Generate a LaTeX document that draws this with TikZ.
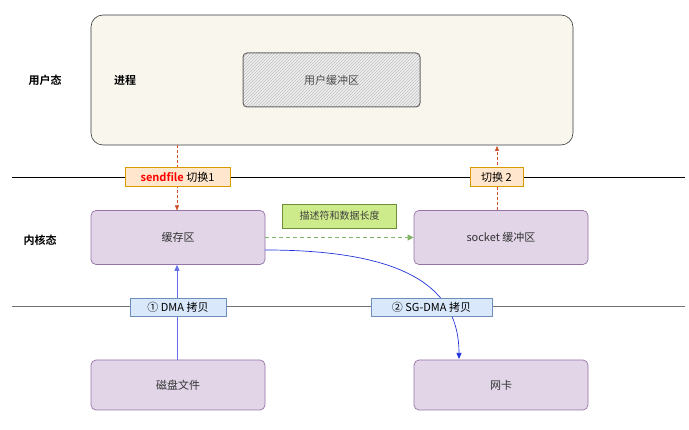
\documentclass[tikz,border=0pt]{standalone}
\usepackage{fontspec}
\setmainfont{Noto Sans CJK SC}
\newfontfamily\cjkb{Noto Sans CJK SC Bold}
\usetikzlibrary{patterns,arrows.meta}
\definecolor{procfill}{HTML}{F9F7ED}
\definecolor{procdraw}{HTML}{36393D}
\definecolor{purfill}{HTML}{E1D5E7}
\definecolor{purdraw}{HTML}{9673A6}
\definecolor{orfill}{HTML}{FFE6CC}
\definecolor{ordraw}{HTML}{D79B00}
\definecolor{blfill}{HTML}{DAE8FC}
\definecolor{bldraw}{HTML}{6C8EBF}
\definecolor{grfill}{HTML}{CDEB8B}
\definecolor{grdraw}{HTML}{6D8F3A}
\definecolor{redarrow}{HTML}{D0502A}
\definecolor{bluearrow}{HTML}{2233DD}
\definecolor{greenarrow}{HTML}{82B366}
\tikzset{
  x=1pt,y=-1pt,
  kbox/.style={draw=purdraw,fill=purfill,rounded corners=5pt,minimum width=174pt,minimum height=54pt,font=\fontsize{11}{13}\selectfont,text=black!80,line width=0.7pt},
  switchlbl/.style={draw=ordraw,fill=orfill,inner sep=1pt,minimum height=19pt,font=\fontsize{11}{13}\selectfont},
  dmalbl/.style={draw=bldraw,fill=blfill,inner sep=1pt,minimum height=18pt,font=\fontsize{11}{13}\selectfont},
  sidelbl/.style={font=\cjkb\fontsize{11}{13}\selectfont},
}
\begin{document}
\begin{tikzpicture}
\useasboundingbox (0,0) rectangle (689,430);
% process box
\node[draw=procdraw,fill=procfill,rounded corners=12pt,minimum width=482pt,minimum height=130pt,line width=0.6pt] (proc) at (332,80) {};
\node[draw=black!60,preaction={fill=black!6},pattern=north east lines,pattern color=black!25,rounded corners=4pt,minimum width=177pt,minimum height=54pt,line width=1pt] (ubuf) at (331.5,80) {};
\node[font=\fontsize{11}{13}\selectfont,text=black!70] (ubuftxt) at (331.5,80) {用户缓冲区};
\node[sidelbl] (user) at (45,80) {用户态};
\node[sidelbl] (procname) at (125,80) {进程};
% lines
\coordinate (l1a) at (12,177);
\coordinate (l1b) at (685,177);
\draw[black,line width=0.7pt] (l1a) -- (l1b);
\coordinate (l2a) at (12,307);
\coordinate (l2b) at (685,307);
\draw[black!55,line width=1pt] (l2a) -- (l2b);
% kernel boxes
\node[kbox] (cache) at (178,237.5) {缓存区};
\node[kbox] (sock) at (501,237.5) {socket 缓冲区};
\node[kbox,minimum height=50pt] (disk) at (178,385) {磁盘文件};
\node[kbox,minimum height=50pt] (nic) at (501,385) {网卡};
\node[sidelbl] (kern) at (40,240) {内核态};
% arrows
\coordinate (s1top) at (177,145);
\coordinate (s1bot) at (177,210.5);
\draw[redarrow,densely dashed,-{Triangle[length=5pt,width=4pt]}] (s1top) -- (s1bot);
\coordinate (s2bot) at (497,210.5);
\coordinate (s2top) at (497,146);
\draw[redarrow,densely dashed,-{Triangle[length=5pt,width=4pt]}] (s2bot) -- (s2top);
\node[switchlbl,minimum width=105pt] (sw1) at (177.5,177) {\textcolor{red}{\cjkb sendfile} 切换1};
\node[switchlbl,minimum width=53pt] (sw2) at (496.5,177) {切换 2};
\draw[greenarrow,dashed,dash pattern=on 4pt off 3pt,line width=1pt,-{Triangle[length=6pt,width=6pt]}] (cache.east) -- (sock.west);
\node[draw=grdraw,fill=grfill,minimum width=114pt,minimum height=24pt,font=\fontsize{10}{12}\selectfont,text=black!75] (desc) at (339.5,216) {描述符和数据长度};
\coordinate (diskt) at (177,360);
\draw[bluearrow!70,line width=0.7pt,-{Triangle[length=6pt,width=5pt]}] (disk.north -| diskt) -- (cache.south -| diskt);
\coordinate (curveS) at (265,250);
\coordinate (curveE) at (459,359);
\draw[bluearrow,line width=0.7pt,-{Triangle[length=6pt,width=5pt]}] (curveS) .. controls (410,250) and (459,290) .. (curveE);
\node[dmalbl,minimum width=96pt] (dma1) at (178,307) {① DMA 拷贝};
\node[dmalbl,minimum width=121pt] (dma2) at (431.5,307) {② SG-DMA 拷贝};
\end{tikzpicture}
\end{document}
